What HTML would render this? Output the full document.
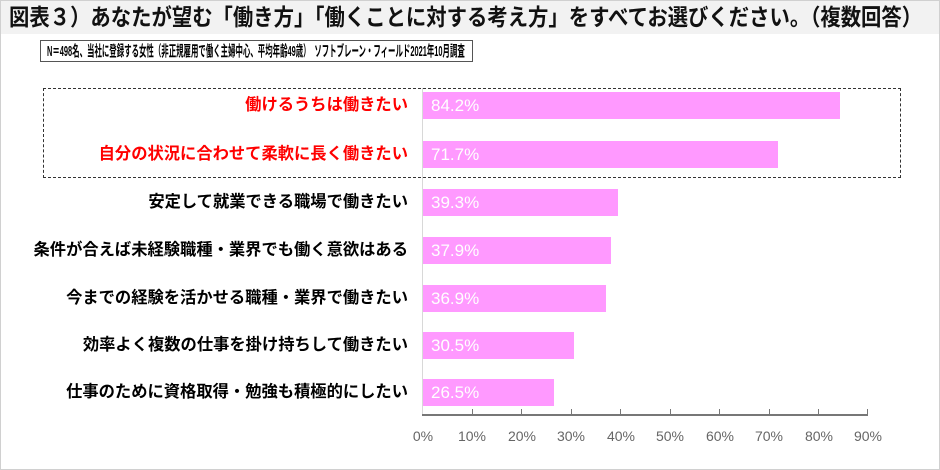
<!DOCTYPE html>
<html><head><meta charset="utf-8"><style>
body{margin:0;width:940px;height:470px;background:#fff;font-family:"Liberation Sans","Noto Sans CJK JP",sans-serif;position:relative;overflow:hidden}
.frame{position:absolute;left:0;top:0;width:938px;height:468px;border:1px solid #d0d0d0}
.title{position:absolute;left:1px;top:1px;width:938px;height:33px;background:#f2f2f2}
.title span{position:absolute;left:8px;top:0;font-size:23px;font-weight:bold;line-height:33px;color:#111;white-space:nowrap;transform:scaleX(0.885);transform-origin:0 0}
.note{position:absolute;left:40px;top:40px;width:433px;height:22px;border:1px solid #555;box-sizing:border-box}
.note span{position:absolute;left:6px;top:0;font-size:15px;font-weight:bold;line-height:21px;white-space:nowrap;transform:scaleX(0.495);transform-origin:0 0}
.dash{position:absolute;left:43px;top:88px;width:858px;height:90px;border:1px dashed #333;box-sizing:border-box}
.lbl{position:absolute;right:532px;font-size:16.3px;font-weight:bold;white-space:nowrap;line-height:20px;letter-spacing:0}
.red{color:#ff0000}
.bar{position:absolute;left:423px;height:27px;background:#ff99ff;color:#fff;font-size:17px;line-height:27px;padding-left:8px;box-sizing:border-box}
.tick{position:absolute;top:409px;width:1px;height:6px;background:#777}
.tl{position:absolute;top:428px;font-size:14px;color:#666;width:40px;text-align:center;margin-left:-20px}
</style></head><body>
<div class="frame"></div>
<div class="title"><span>図表３）あなたが望む「働き方」「働くことに対する考え方」をすべてお選びください。（複数回答）</span></div>
<div class="note"><span>N＝498名、当社に登録する女性（非正規雇用で働く主婦中心、平均年齢49歳）　ソフトブレーン・フィールド2021年10月調査</span></div>
<div class="dash"></div>
<div style="position:absolute;left:422px;top:88px;width:1px;height:327px;background:#d8d8d8"></div>
<div style="position:absolute;left:422px;top:414px;width:446px;height:2px;background:#777"></div>

<div class="lbl red" style="top:95px">働けるうちは働きたい</div>
<div class="bar" style="top:92px;width:417px">84.2%</div>
<div class="lbl red" style="top:144px">自分の状況に合わせて柔軟に長く働きたい</div>
<div class="bar" style="top:141px;width:355px">71.7%</div>
<div class="lbl" style="top:192px">安定して就業できる職場で働きたい</div>
<div class="bar" style="top:189px;width:195px">39.3%</div>
<div class="lbl" style="top:240px">条件が合えば未経験職種・業界でも働く意欲はある</div>
<div class="bar" style="top:237px;width:188px">37.9%</div>
<div class="lbl" style="top:288px">今までの経験を活かせる職種・業界で働きたい</div>
<div class="bar" style="top:285px;width:183px">36.9%</div>
<div class="lbl" style="top:335px">効率よく複数の仕事を掛け持ちして働きたい</div>
<div class="bar" style="top:332px;width:151px">30.5%</div>
<div class="lbl" style="top:382px">仕事のために資格取得・勉強も積極的にしたい</div>
<div class="bar" style="top:379px;width:131px">26.5%</div>

<div class="tick" style="left:472px"></div><div class="tick" style="left:521px"></div><div class="tick" style="left:571px"></div><div class="tick" style="left:620px"></div><div class="tick" style="left:670px"></div><div class="tick" style="left:719px"></div><div class="tick" style="left:769px"></div><div class="tick" style="left:818px"></div><div class="tick" style="left:867px"></div>
<div class="tl" style="left:423px">0%</div><div class="tl" style="left:472px">10%</div><div class="tl" style="left:522px">20%</div><div class="tl" style="left:571px">30%</div><div class="tl" style="left:621px">40%</div><div class="tl" style="left:670px">50%</div><div class="tl" style="left:720px">60%</div><div class="tl" style="left:769px">70%</div><div class="tl" style="left:819px">80%</div><div class="tl" style="left:868px">90%</div>
</body></html>
